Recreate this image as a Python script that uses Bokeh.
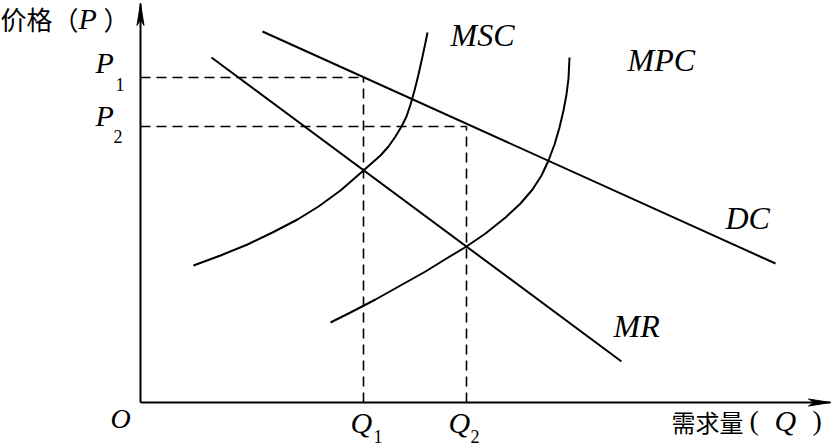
from bokeh.plotting import figure
from bokeh.models import Range1d
from bokeh.core.properties import value
from bokeh.embed import file_html
from bokeh.resources import INLINE

# ---- data (origin O at (0, 0); units: quantity / price) ----
dc_x = [122, 635]
dc_y = [371, 139]

mr_x = [71, 481]
mr_y = [345, 41]

msc_x = [53, 80, 107, 132, 157, 178, 200, 223, 232, 240, 248, 255, 261, 266, 270, 274, 278, 282, 285, 287]
msc_y = [137, 147, 158, 170, 183, 196, 212, 232, 240, 247, 256, 266, 276, 286, 298, 312, 328, 346, 360, 370]

mpc_x = [190, 210, 235, 260, 285, 306, 326, 345, 365, 380, 392, 401, 408, 414, 419, 423, 426, 428, 429]
mpc_y = [80, 90, 103, 117, 131, 144, 156, 169, 185, 199, 213, 227, 242, 258, 275, 292, 308, 324, 345]

Q1, Q2 = 223, 326
P1, P2 = 325, 276

X_END, Y_END = 690, 399

# ---- figure ----
p = figure(width=831, height=447, output_backend="svg", toolbar_location=None,
           x_range=Range1d(-140, 691), y_range=Range1d(-45, 402),
           x_axis_type=None, y_axis_type=None, min_border=0)
p.grid.visible = False
p.outline_line_color = None
p.background_fill_color = "white"

# axes
p.line([0, X_END], [0, 0], line_color="black", line_width=2)
p.line([0, 0], [0, Y_END], line_color="black", line_width=2)
HL, HW, HN = 22, 3.5, 6
p.patch([X_END, X_END - HL, X_END - HL + HN, X_END - HL],
        [0, HW, 0, -HW], color="black")
p.patch([0, -HW, 0, HW],
        [Y_END, Y_END - HL, Y_END - HL + HN, Y_END - HL], color="black")

# dashed guides
p.segment(x0=[0, Q1, 0, Q2], y0=[P1, 0, P2, 0],
          x1=[Q1, Q1, Q2, Q2], y1=[P1, P1, P2, P2],
          line_color="black", line_width=1.6, line_dash="10 6")

# curves
for xs, ys in [(dc_x, dc_y), (mr_x, mr_y), (msc_x, msc_y), (mpc_x, mpc_y)]:
    p.line(xs, ys, line_color="black", line_width=2)

SERIF = value("Liberation Serif")
CJK = value("Noto Sans CJK SC")

def lab(x, y, t, size, font=SERIF, style="italic"):
    p.text(x=[x], y=[y], text=[t], text_font=font, text_font_size=value(f"{size}px"),
           text_font_style=style, text_align="left", text_baseline="alphabetic",
           text_color="black")

# axis titles
lab(-140, 384, "价格（", 26, CJK, "normal")
lab(-62, 384, "P", 30)
lab(-37, 384, "）", 26, CJK, "normal")
lab(531, -19, "需求量", 24, CJK, "normal")
lab(609, -18, "(", 28, style="normal")
lab(634, -18, "Q", 30)
lab(672, -18, ")", 28, style="normal")

# tick-like labels
lab(-45, 340, "P", 30)
lab(-25, 318, "1", 18, style="normal")
lab(-45, 287, "P", 30)
lab(-27, 266, "2", 18, style="normal")
lab(-30, -16, "O", 28)
lab(210, -20, "Q", 30)
lab(233, -34, "1", 18, style="normal")
lab(308, -20, "Q", 30)
lab(330, -34, "2", 18, style="normal")

# curve labels
lab(310, 368, "MSC", 32)
lab(487, 343, "MPC", 32)
lab(585, 185, "DC", 32)
lab(473, 77, "MR", 32)

open("out.html", "w").write(file_html(p, INLINE))
